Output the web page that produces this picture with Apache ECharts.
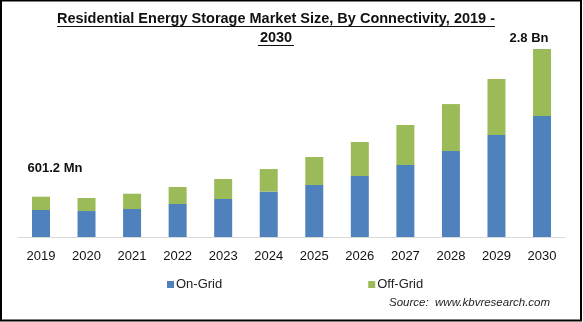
<!DOCTYPE html>
<html>
<head>
<meta charset="utf-8">
<script src="https://cdn.jsdelivr.net/npm/echarts@6/dist/echarts.min.js"></script>
<style>
html,body{margin:0;padding:0;background:#fff;}
#chart{width:583px;height:322px;}
</style>
</head>
<body>
<div id="chart"></div>
<script>
var categories = ['2019','2020','2021','2022','2023','2024','2025','2026','2027','2028','2029','2030'];
var onGrid  = [402, 387, 417, 492, 566, 675, 775, 909, 1073, 1281, 1520, 1803];
var offGrid = [199.2, 194, 228, 253, 298, 338, 417, 507, 596, 700, 834, 997];
var seriesNames = ['On-Grid', 'Off-Grid'];
var endLabels = {0: '601.2 Mn', 11: '2.8 Bn'};
var titleLines = ['Residential Energy Storage Market Size, By Connectivity, 2019 -', '2030'];
var sourceText = 'Source:  www.kbvresearch.com';

var BLUE = '#4f81bd', GREEN = '#9bbb59';
var TITLE_FONT = 'bold 15px "Liberation Sans"';

// horizontal squeeze so the title spans the same width as the reference
var ctx = document.createElement('canvas').getContext('2d');
ctx.font = TITLE_FONT;
var w1 = ctx.measureText(titleLines[0]).width;
var sx = 438 / w1;

var offData = offGrid.map(function (v, i) {
  if (endLabels[i] === undefined) return v;
  return {
    value: v,
    label: {
      show: true,
      position: 'top',
      formatter: endLabels[i],
      distance: i === 0 ? 22 : 4,
      offset: i === 0 ? [14, 0] : [-13, 0],
      fontFamily: 'Liberation Sans',
      fontWeight: 'bold',
      fontSize: 13,
      color: '#111'
    }
  };
});

var chart = echarts.init(document.getElementById('chart'), null, {renderer: 'canvas'});
chart.setOption({
  animation: false,
  backgroundColor: '#fff',
  grid: {left: 18.2, right: 18.2, top: 35.7, bottom: 85, containLabel: false},
  xAxis: {
    type: 'category',
    data: categories,
    axisLine: {lineStyle: {color: '#d9d9d9', width: 1}},
    axisTick: {show: false},
    axisLabel: {margin: 13, color: '#111', fontSize: 13, fontFamily: 'Liberation Sans'}
  },
  yAxis: {type: 'value', min: 0, max: 3000, show: false, splitLine: {show: false}},
  legend: {
    left: 162, top: 273,
    itemWidth: 7, itemHeight: 7, itemGap: 146,
    icon: 'rect',
    textStyle: {fontSize: 13, color: '#222', fontFamily: 'Liberation Sans', padding: [0, 0, 0, -3]},
    data: seriesNames
  },
  series: [
    {name: seriesNames[0], type: 'bar', stack: 'a', barWidth: 18, itemStyle: {color: BLUE}, data: onGrid},
    {name: seriesNames[1], type: 'bar', stack: 'a', barWidth: 18, itemStyle: {color: GREEN}, data: offData}
  ],
  graphic: [
    {type: 'rect', shape: {x: 1, y: 0.5, width: 580, height: 320}, style: {fill: 'none', stroke: '#000', lineWidth: 2}, silent: true},
    {type: 'text', x: 276, y: 19, scaleX: sx, style: {text: titleLines[0], align: 'center', verticalAlign: 'middle', font: TITLE_FONT, fill: '#111'}},
    {type: 'text', x: 276, y: 38, scaleX: sx, style: {text: titleLines[1], align: 'center', verticalAlign: 'middle', font: TITLE_FONT, fill: '#111'}},
    {type: 'line', shape: {x1: 57, y1: 26.5, x2: 495, y2: 26.5}, style: {stroke: '#111', lineWidth: 1}},
    {type: 'line', shape: {x1: 258, y1: 45.5, x2: 294, y2: 45.5}, style: {stroke: '#111', lineWidth: 1}},
    {type: 'text', x: 389, y: 303, style: {text: sourceText, align: 'left', verticalAlign: 'middle', font: 'italic 11.5px "Liberation Sans"', fill: '#222'}}
  ]
});
</script>
</body>
</html>
